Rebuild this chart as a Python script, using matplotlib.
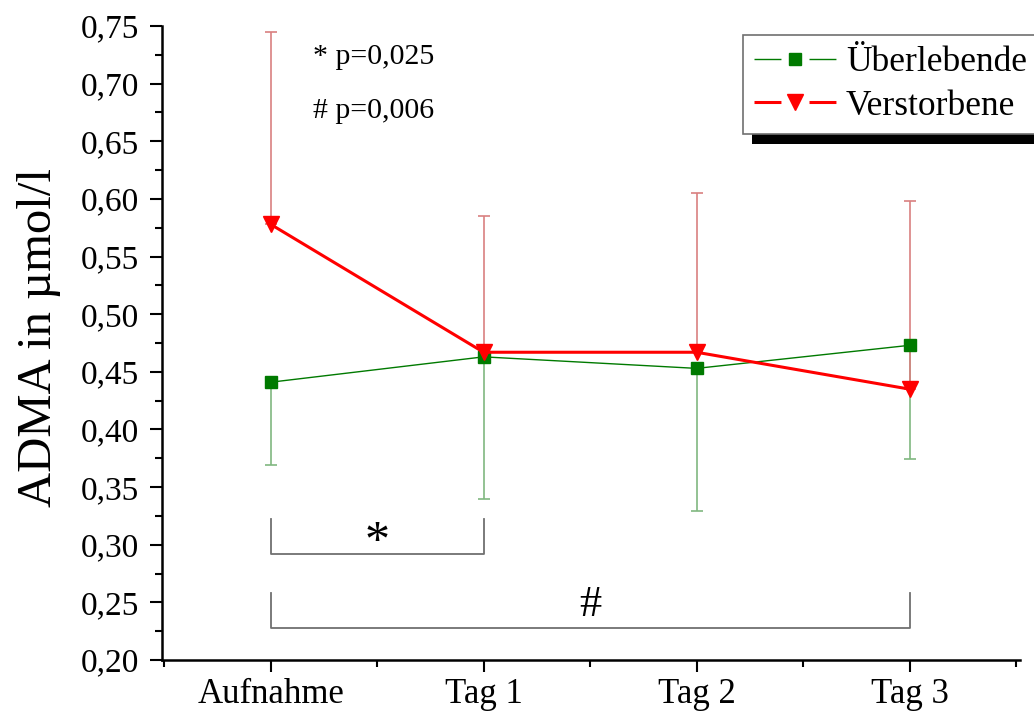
import matplotlib
matplotlib.use("Agg")
import matplotlib.pyplot as plt
from matplotlib.lines import Line2D
from matplotlib.patches import Rectangle
from matplotlib.transforms import IdentityTransform
from matplotlib.ticker import MultipleLocator, FuncFormatter

plt.rcParams['font.family'] = ['Liberation Serif', 'DejaVu Serif']
plt.rcParams['lines.scale_dashes'] = False

# Messzeitpunkte
zeitpunkte = ['Aufnahme', 'Tag 1', 'Tag 2', 'Tag 3']

# ADMA-Mittelwerte und Standardabweichungen (µmol/l)
ueberlebende = [0.441, 0.463, 0.453, 0.473]
ueberlebende_sd = [0.072, 0.123, 0.124, 0.099]
verstorbene = [0.578, 0.467, 0.467, 0.435]
verstorbene_sd = [0.167, 0.118, 0.138, 0.163]

GRUEN = '#007a00'
ROT = '#ff0000'

fig = plt.figure(figsize=(10.34, 7.13), dpi=100)
ax = fig.add_axes([0.1567, 0.0743, 0.83, 0.8892])

x = list(range(len(zeitpunkte)))

# Fehlerbalken: Überlebende nur nach unten, Verstorbene nur nach oben
ax.errorbar(x, ueberlebende, yerr=[ueberlebende_sd, [0] * 4], fmt='none',
            ecolor='#80b880', elinewidth=1.2, capsize=4.5, capthick=1.2, zorder=2)
ax.errorbar(x, verstorbene, yerr=[[0] * 4, verstorbene_sd], fmt='none',
            ecolor='#d98080', elinewidth=1.2, capsize=4.5, capthick=1.2, zorder=2)

ax.plot(x, ueberlebende, color=GRUEN, lw=1, marker='s', ms=8.5,
        mec=GRUEN, mfc=GRUEN, zorder=3)
ax.plot(x, verstorbene, color=ROT, lw=2.2, marker='v', ms=12,
        mec=ROT, mfc=ROT, zorder=4)

# Signifikanzklammern
grau = '#707070'
ax.plot([0, 0, 1, 1], [0.322, 0.292, 0.292, 0.322], color=grau, lw=1.3)
ax.text(0.5, 0.291, '*', ha='center', va='baseline', fontsize=36)
ax.plot([0, 0, 3, 3], [0.258, 0.228, 0.228, 0.258], color=grau, lw=1.3)
ax.text(1.5, 0.238, '#', ha='center', va='baseline', fontsize=32)

ax.text(0.2, 0.723, '* p=0,025', ha='left', va='center', fontsize=21.5)
ax.text(0.2, 0.676, '# p=0,006', ha='left', va='center', fontsize=21.5)

ax.set_xlim(-0.51, 3.52)
ax.set_ylim(0.20, 0.75)
ax.set_xticks(x)
ax.set_xticklabels(zeitpunkte)
ax.xaxis.set_minor_locator(MultipleLocator(0.5))
ax.yaxis.set_major_locator(MultipleLocator(0.05))
ax.yaxis.set_minor_locator(MultipleLocator(0.025))
ax.yaxis.set_major_formatter(FuncFormatter(lambda v, p: f'{v:.2f}'.replace('.', ',')))

ax.spines['top'].set_visible(False)
ax.spines['right'].set_visible(False)
for s in ('left', 'bottom'):
    ax.spines[s].set_linewidth(1.8)
ax.tick_params(axis='both', which='major', direction='out', length=8.6, width=1.5)
ax.tick_params(axis='both', which='minor', direction='out', length=5, width=1.5)
ax.tick_params(axis='y', which='major', labelsize=24, pad=8)
ax.tick_params(axis='x', which='major', labelsize=25, pad=4)
ax.set_ylabel('ADMA in µmol/l', fontsize=35)
ax.yaxis.set_label_coords(-0.118, 0.508)

# Legende mit unterbrochenen Linien um das Symbol
handles = [
    Line2D([0], [0], color=GRUEN, lw=1, dashes=(19.4, 20.2), marker='s', ms=8.5,
           mec=GRUEN, mfc=GRUEN),
    Line2D([0], [0], color=ROT, lw=2.2, dashes=(19.4, 20.2), marker='v', ms=12,
           mec=ROT, mfc=ROT),
]
leg = ax.legend(handles, ['Überlebende', 'Verstorbene'], loc='upper right',
                bbox_to_anchor=(1.004, 0.951), bbox_transform=fig.transFigure,
                fontsize=25.5, frameon=True, fancybox=False, edgecolor='#707070',
                framealpha=1, handlelength=2.3, handletextpad=0.28,
                borderpad=0.32, labelspacing=0.3, borderaxespad=0.0)
leg.get_frame().set_linewidth(1.2)
leg.set_zorder(7)

# Schwarzer Schatten unter der Legende
fig.canvas.draw()
bb = leg.get_window_extent()
schatten = Rectangle((bb.x0 + 9, bb.y0 - 10), bb.width, bb.height,
                     transform=IdentityTransform(), facecolor='black',
                     edgecolor='none', zorder=6, clip_on=False)
ax.add_artist(schatten)

fig.savefig('out.png', dpi=100)
